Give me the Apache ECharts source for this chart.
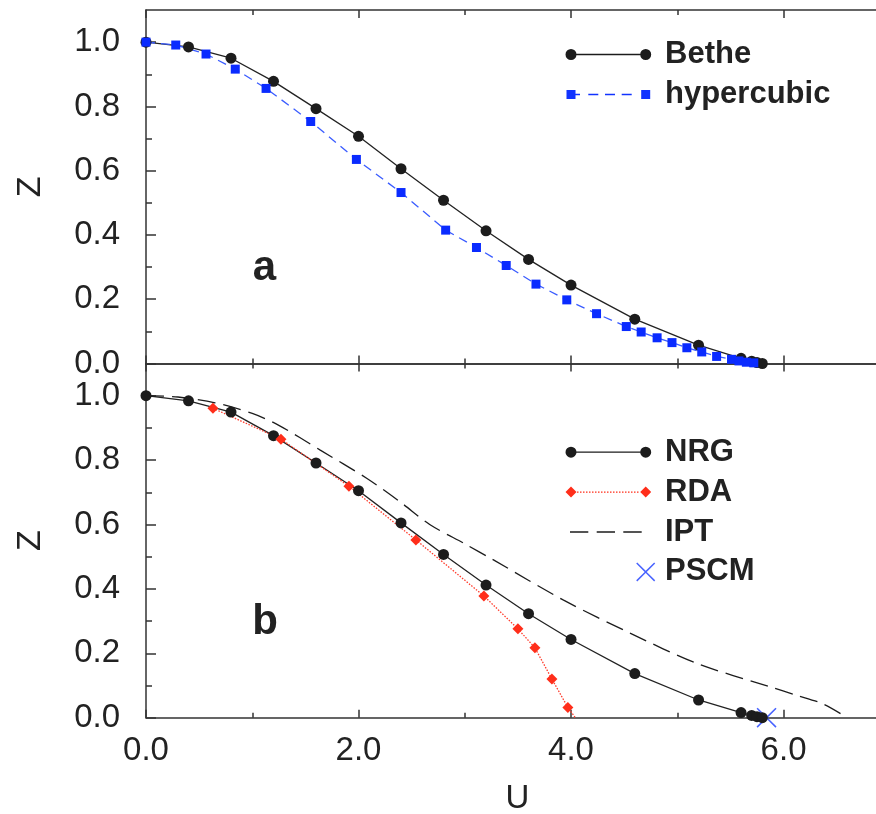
<!DOCTYPE html>
<html><head><meta charset="utf-8">
<script src="https://cdn.jsdelivr.net/npm/echarts@6/dist/echarts.min.js"></script>
<style>html,body{margin:0;padding:0;background:#fff}#c{width:876px;height:814px}</style>
</head><body><div id="c"></div>
<script>
// ---- data ----
const betheU = [0, 0.4, 0.8, 1.2, 1.6, 2.0, 2.4, 2.8, 3.2, 3.6, 4.0, 4.6, 5.2, 5.6, 5.7, 5.75, 5.8];
const betheZ = [1.0, 0.985, 0.950, 0.878, 0.793, 0.707, 0.606, 0.508, 0.413, 0.324, 0.244, 0.138, 0.057, 0.016, 0.007, 0.003, 0.0];
const hyperU = [0, 0.28, 0.565, 0.84, 1.13, 1.55, 1.98, 2.40, 2.82, 3.11, 3.39, 3.67, 3.96, 4.24, 4.52, 4.66, 4.81, 4.95, 5.09, 5.23, 5.37, 5.51, 5.58, 5.65, 5.72];
const hyperZ = [1.0, 0.991, 0.963, 0.916, 0.856, 0.753, 0.635, 0.532, 0.415, 0.361, 0.305, 0.247, 0.198, 0.155, 0.115, 0.098, 0.080, 0.065, 0.049, 0.036, 0.022, 0.013, 0.008, 0.004, 0.002];
const nrgU = [0, 0.4, 0.8, 1.2, 1.6, 2.0, 2.4, 2.8, 3.2, 3.6, 4.0, 4.6, 5.2, 5.6, 5.7, 5.75, 5.8];
const nrgZ = [1.0, 0.984, 0.949, 0.876, 0.791, 0.705, 0.605, 0.507, 0.412, 0.323, 0.243, 0.137, 0.055, 0.016, 0.007, 0.003, 0.0];
const rdaU = [0.63, 1.27, 1.91, 2.54, 3.18, 3.50, 3.66, 3.82, 3.97, 4.04];
const rdaZ = [0.961, 0.865, 0.719, 0.552, 0.378, 0.276, 0.217, 0.120, 0.032, 0.0];
const iptU = [0, 0.3, 0.65, 1.0, 1.25, 1.64, 2.08, 2.4, 2.67, 3.0, 3.27, 3.93, 4.56, 5.18, 5.87, 6.12, 6.37, 6.60];
const iptZ = [1.0, 0.996, 0.978, 0.945, 0.908, 0.831, 0.743, 0.668, 0.600, 0.540, 0.490, 0.365, 0.262, 0.169, 0.096, 0.070, 0.043, 0.0];
const pscmU = [5.84];
const pscmZ = [0.0];

const xTickLabels = [0, 2, 4, 6];
const xMinorTicks = [1, 3, 5];
const yTickLabels = [0, 0.2, 0.4, 0.6, 0.8, 1.0];
const yMinorTicks = [0.1, 0.3, 0.5, 0.7, 0.9];
const X_MAX = 6.87, Y_MAX = 1.1;

// ---- style helpers ----
const FONT = '"Liberation Sans", Arial, Helvetica, sans-serif';
const AX = '#333333';
const TXT = '#222222';
function pairs(u, z) { return u.map((v, i) => [v, z[i]]); }

function xAx(grid, pos, ticks, len, showLine, showLabels, name) {
  const a = {
    type: 'value', gridIndex: grid, position: pos, min: 0, max: X_MAX,
    axisLine: { show: showLine, onZero: false, lineStyle: { color: AX, width: 1.5 } },
    axisTick: { show: true, inside: true, length: len, customValues: ticks, lineStyle: { color: AX, width: 1.5 } },
    axisLabel: { show: showLabels, customValues: xTickLabels, formatter: v => v.toFixed(1),
      fontSize: 33, color: TXT, fontFamily: FONT, margin: 17 },
    splitLine: { show: false }
  };
  if (name) {
    a.name = name; a.nameLocation = 'middle'; a.nameGap = 65;
    a.nameTextStyle = { fontSize: 33, color: TXT, fontFamily: FONT, padding: [0, 0, 0, 13] };
  }
  return a;
}
function yAx(grid, ticks, len, showLine, showLabels, name) {
  const a = {
    type: 'value', gridIndex: grid, position: 'left', min: 0, max: Y_MAX,
    axisLine: { show: showLine, onZero: false, lineStyle: { color: AX, width: 1.5 } },
    axisTick: { show: true, inside: true, length: len, customValues: ticks, lineStyle: { color: AX, width: 1.5 } },
    axisLabel: { show: showLabels, customValues: yTickLabels, formatter: v => v.toFixed(1),
      fontSize: 33, color: TXT, fontFamily: FONT, margin: 26 },
    splitLine: { show: false }
  };
  if (name) {
    a.name = name; a.nameLocation = 'middle'; a.nameGap = 98; a.nameRotate = 90;
    a.nameTextStyle = { fontSize: 34, color: TXT, fontFamily: FONT };
  }
  return a;
}

// ---- legend icon paths (95 x 20 box) ----
const BOX = 'M0 0M95 20';
const circ = cx => `M${cx - 5.5} 10a5.5 5.5 0 1 1 11 0a5.5 5.5 0 1 1 -11 0Z`;
const sq = cx => `M${cx - 4.5} 5.5h9v9h-9Z`;
const dia = cx => `M${cx - 5.5} 10L${cx} 4.5L${cx + 5.5} 10L${cx} 15.5Z`;
const seg = (x1, x2, t) => `M${x1} ${10 - t / 2}H${x2}V${10 + t / 2}H${x1}Z`;
function xPoly(x0, y0, s, e) {
  const h = s / 2;
  const p = [[0, e], [e, 0], [h, h - e], [s - e, 0], [s, e], [h + e, h], [s, s - e], [s - e, s], [h, h + e], [e, s], [0, s - e], [h - e, h]];
  return 'M' + p.map(q => (x0 + q[0]) + ' ' + (y0 + q[1])).join('L') + 'Z';
}
let dots = '';
for (let x = 12; x < 74.5; x += 3) dots += seg(x, x + 1.5, 1.2);
const iconBethe = 'path://' + BOX + circ(6) + circ(80.7) + seg(11.3, 75.4, 1.3);
const iconHyper = 'path://' + BOX + sq(6) + sq(80.7) + seg(10.5, 15, 1.3) + seg(23.3, 33.3, 1.3) + seg(40, 50, 1.3) + seg(56.7, 66.7, 1.3);
const iconRDA = 'path://' + BOX + dia(6) + dia(80.7) + dots;
const iconIPT = 'path://' + BOX + seg(5, 23.3, 1.3) + seg(31.7, 50, 1.3) + seg(58.3, 76.7, 1.3);
const iconPSCM = 'path://' + BOX + xPoly(71.2, 0.5, 19, 1.05);
const xSymbol = 'path://' + xPoly(0, 0, 20, 1.1);

const legendCommon = {
  orient: 'vertical', left: 565, itemWidth: 95, itemHeight: 20, itemGap: 9, padding: 0,
  selectedMode: false,
  textStyle: { fontSize: 31, fontWeight: 'bold', color: TXT, fontFamily: FONT }
};

const chart = echarts.init(document.getElementById('c'), null, { renderer: 'canvas' });
chart.setOption({
  animation: false,
  backgroundColor: '#ffffff',
  grid: [
    { left: 146, top: 10, width: 730, height: 353.5, containLabel: false, outerBoundsMode: 'none' },
    { left: 146, top: 363.5, width: 730, height: 354.2, containLabel: false, outerBoundsMode: 'none' }
  ],
  xAxis: [
    xAx(0, 'bottom', xTickLabels, 8, true, false),
    xAx(0, 'top', xTickLabels, 8, true, false),
    xAx(0, 'bottom', xMinorTicks, 5, false, false),
    xAx(0, 'top', xMinorTicks, 5, false, false),
    xAx(1, 'bottom', xTickLabels, 8, true, true, 'U'),
    xAx(1, 'top', xTickLabels, 8, true, false),
    xAx(1, 'bottom', xMinorTicks, 5, false, false),
    xAx(1, 'top', xMinorTicks, 5, false, false)
  ],
  yAxis: [
    yAx(0, yTickLabels, 10, true, true, 'Z'),
    yAx(0, yMinorTicks, 6, false, false),
    yAx(1, yTickLabels, 10, true, true, 'Z'),
    yAx(1, yMinorTicks, 6, false, false)
  ],
  legend: [
    Object.assign({}, legendCommon, { top: 39, data: [
      { name: 'Bethe', icon: iconBethe, itemStyle: { color: '#1c1c1c', borderWidth: 0 } },
      { name: 'hypercubic', icon: iconHyper, itemStyle: { color: '#1133ff', borderWidth: 0 } }
    ] }),
    Object.assign({}, legendCommon, { top: 436.7, itemGap: 8.9, data: [
      { name: 'NRG', icon: iconBethe, itemStyle: { color: '#1c1c1c', borderWidth: 0 } },
      { name: 'RDA', icon: iconRDA, itemStyle: { color: '#ff2e1a', borderWidth: 0 } },
      { name: 'IPT', icon: iconIPT, itemStyle: { color: '#1c1c1c', borderWidth: 0 } },
      { name: 'PSCM', icon: iconPSCM, itemStyle: { color: '#1a3cff', borderWidth: 0 } }
    ] })
  ],
  graphic: [
    { type: 'text', x: 264.5, y: 268, style: { text: 'a', fontSize: 42, fontWeight: 'bold', fontFamily: FONT, fill: TXT, align: 'center', verticalAlign: 'middle' } },
    { type: 'text', x: 265, y: 622, style: { text: 'b', fontSize: 42, fontWeight: 'bold', fontFamily: FONT, fill: TXT, align: 'center', verticalAlign: 'middle' } }
  ],
  series: [
    { name: 'Bethe', type: 'line', xAxisIndex: 0, yAxisIndex: 0, data: pairs(betheU, betheZ), clip: false,
      symbol: 'circle', symbolSize: 11, itemStyle: { color: '#1c1c1c' }, lineStyle: { color: '#222', width: 1.3 } },
    { name: 'hypercubic', type: 'line', xAxisIndex: 0, yAxisIndex: 0, data: pairs(hyperU, hyperZ), clip: false,
      symbol: 'rect', symbolSize: 9, itemStyle: { color: '#0a2bff' }, lineStyle: { color: '#3a5cff', width: 1.3, type: [9, 6] } },
    { name: 'NRG', type: 'line', xAxisIndex: 4, yAxisIndex: 2, data: pairs(nrgU, nrgZ), clip: false,
      symbol: 'circle', symbolSize: 11, itemStyle: { color: '#1c1c1c' }, lineStyle: { color: '#222', width: 1.3 } },
    { name: 'RDA', type: 'line', xAxisIndex: 4, yAxisIndex: 2, clip: false,
      data: pairs(rdaU, rdaZ).map((p, i) => i === rdaU.length - 1 ? { value: p, symbol: 'none' } : p),
      symbol: 'diamond', symbolSize: 11, itemStyle: { color: '#ff2e1a' }, lineStyle: { color: '#ff3b2b', width: 1.3, type: [1.5, 1.5] } },
    { name: 'IPT', type: 'line', xAxisIndex: 4, yAxisIndex: 2, data: pairs(iptU, iptZ), clip: false, smooth: 0.3,
      symbol: 'none', lineStyle: { color: '#1c1c1c', width: 1.3, type: [18, 8] } },
    { name: 'PSCM', type: 'scatter', xAxisIndex: 4, yAxisIndex: 2, data: pairs(pscmU, pscmZ), clip: false,
      symbol: xSymbol, symbolSize: 20, itemStyle: { color: '#1a3cff' } }
  ]
});
</script>
</body></html>
